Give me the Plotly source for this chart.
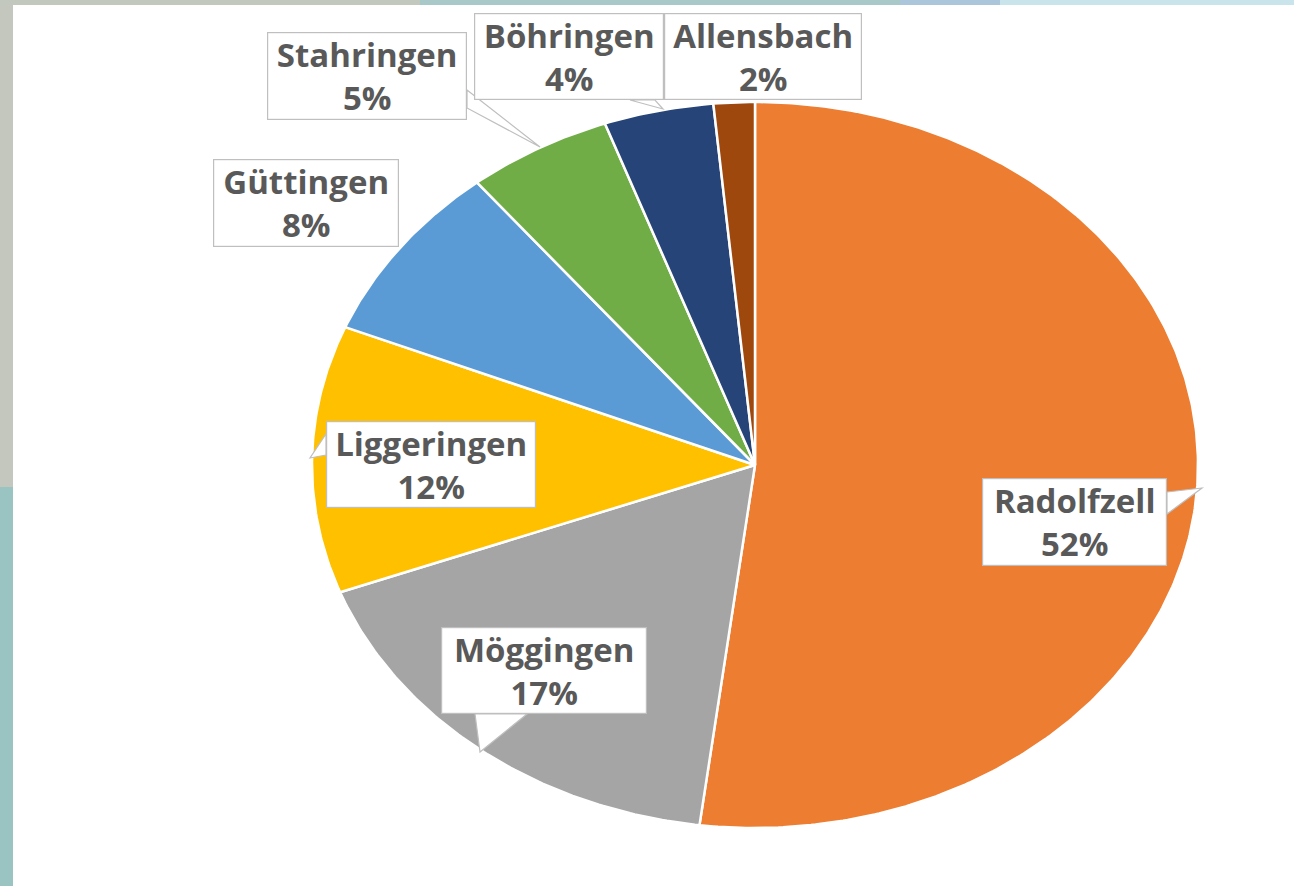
import numpy as np
import plotly.graph_objects as go

# ---- data ----
names = ["Radolfzell", "Möggingen", "Liggeringen", "Güttingen", "Stahringen", "Böhringen", "Allensbach"]
values = [52.0, 17.3, 11.9, 8.0, 5.3, 4.0, 1.5]
colors = ["#ED7D31", "#A5A5A5", "#FFC000", "#5B9BD5", "#70AD47", "#264478", "#9E480E"]

# ---- layout params (pixel space) ----
W, H = 1294, 886
cx, cy, ra, rb = 755, 465, 443, 363

# label box centres / sizes
label_pos = {
    "Radolfzell": (1074.5, 522, 185, 88),
    "Möggingen": (544, 670.5, 206, 87),
    "Liggeringen": (431, 464.5, 210, 87),
    "Güttingen": (306, 203, 186, 88),
    "Stahringen": (367, 76, 200, 88),
    "Böhringen": (569, 56.5, 190, 87),
    "Allensbach": (763, 56.5, 198, 87),
}
pointers = {
    "Radolfzell": [(1167, 492), (1202, 488), (1167, 514)],
    "Möggingen": [(475, 714), (480, 752), (527, 714)],
    "Liggeringen": [(326, 434), (310, 458), (326, 455)],
    "Stahringen": [(467, 90), (540, 147), (467, 108)],
    "Böhringen": [(630, 100), (663, 109), (655, 100)],
}

fig = go.Figure()

total = sum(values)
cum = 0.0
for name, v, c in zip(names, values, colors):
    t0 = cum / total * 2 * np.pi
    t1 = (cum + v) / total * 2 * np.pi
    cum += v
    t = np.linspace(t0, t1, max(8, int(v * 6)))
    xs = np.concatenate([[cx], cx + ra * np.sin(t), [cx]])
    ys = np.concatenate([[cy], cy - rb * np.cos(t), [cy]])
    fig.add_trace(go.Scatter(x=xs, y=ys, mode="lines", fill="toself",
                             fillcolor=c, line=dict(color="white", width=2.5),
                             hoverinfo="skip", showlegend=False))

shapes = []
# background decorations
shapes.append(dict(type="rect", xref="x", yref="y", x0=0, x1=13, y0=0, y1=487,
                   fillcolor="#C3C7BD", line_width=0, layer="below"))
shapes.append(dict(type="rect", xref="x", yref="y", x0=0, x1=13, y0=487, y1=H,
                   fillcolor="#99C4C2", line_width=0, layer="below"))
shapes.append(dict(type="rect", xref="x", yref="y", x0=0, x1=420, y0=0, y1=5,
                   fillcolor="#C3C8BF", line_width=0, layer="below"))
shapes.append(dict(type="rect", xref="x", yref="y", x0=420, x1=900, y0=0, y1=5,
                   fillcolor="#A9C9C8", line_width=0, layer="below"))
shapes.append(dict(type="rect", xref="x", yref="y", x0=900, x1=1000, y0=0, y1=5,
                   fillcolor="#ABC6DA", line_width=0, layer="below"))
shapes.append(dict(type="rect", xref="x", yref="y", x0=1000, x1=W, y0=0, y1=5,
                   fillcolor="#CAE4EC", line_width=0, layer="below"))

for name, pts in pointers.items():
    path = "M " + " L ".join(f"{px},{py}" for px, py in pts) + " Z"
    shapes.append(dict(type="path", xref="x", yref="y", path=path,
                       fillcolor="white", line=dict(color="#BFBFBF", width=1.2),
                       layer="above"))

annotations = []
for name, v in zip(names, values):
    x, y, w, h = label_pos[name]
    pct = int(np.floor(v / total * 100 + 0.5 + 1e-9))
    annotations.append(dict(
        x=x, y=y, xref="x", yref="y", showarrow=False,
        text=f"<b>{name}<br>{pct}%</b>",
        font=dict(family="Open Sans", size=33, color="#595959"),
        align="center", valign="middle",
        width=w - 2, height=h - 2, borderpad=0,
        bgcolor="white", bordercolor="#BFBFBF", borderwidth=1.2,
    ))

fig.update_layout(
    width=W, height=H, margin=dict(l=0, r=0, t=0, b=0),
    paper_bgcolor="white", plot_bgcolor="white",
    xaxis=dict(range=[0, W], visible=False, fixedrange=True),
    yaxis=dict(range=[H, 0], visible=False, fixedrange=True),
    shapes=shapes, annotations=annotations, showlegend=False,
)

fig.write_html("out.html", config={"displayModeBar": False},
               post_script="document.body.style.margin='0';document.body.style.overflow='hidden';")
